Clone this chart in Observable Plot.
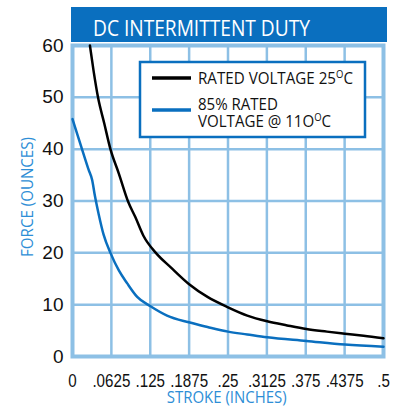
<!DOCTYPE html>
<html>
<head>
<meta charset="utf-8">
<script src="https://cdn.jsdelivr.net/npm/d3@7"></script>
<script src="https://cdn.jsdelivr.net/npm/@observablehq/plot@0.6"></script>
<style>
  html, body { margin: 0; padding: 0; background: #fff; }
  #chart { position: relative; width: 401px; height: 408px; }
</style>
</head>
<body>
<div id="chart"></div>
<script>
const title = "DC INTERMITTENT DUTY";
const xLabel = "STROKE (INCHES)";
const yLabel = "FORCE (OUNCES)";
const seriesNames = ["RATED VOLTAGE 25", "85% RATED", "VOLTAGE @ 11O"];

const xTicks = [0, 0.0625, 0.125, 0.1875, 0.25, 0.3125, 0.375, 0.4375, 0.5];
const xTickLabels = ["0", ".0625", ".125", ".1875", ".25", ".3125", ".375", ".4375", ".5"];
const yTicks = [0, 10, 20, 30, 40, 50, 60];

const ratedStroke = [0.028, 0.034, 0.041, 0.051, 0.061, 0.0745, 0.09, 0.101, 0.114, 0.134, 0.158, 0.187, 0.217, 0.25, 0.281, 0.313, 0.345, 0.376, 0.409, 0.438, 0.468, 0.5];
const ratedForce  = [60, 55, 50, 45, 40, 35.3, 29.7, 26.9, 23.3, 20, 17.2, 14, 11.5, 9.5, 7.9, 6.8, 6.0, 5.3, 4.8, 4.4, 4.0, 3.5];

const hotStroke = [0, 0.014, 0.026, 0.0317, 0.036, 0.042, 0.05, 0.0617, 0.0745, 0.088, 0.104, 0.1254, 0.152, 0.187, 0.217, 0.25, 0.281, 0.313, 0.376, 0.438, 0.5];
const hotForce  = [45.8, 40.5, 36, 34, 31, 27.5, 23.5, 19.8, 16.6, 14.1, 11.5, 9.7, 7.9, 6.6, 5.7, 4.8, 4.25, 3.7, 3.0, 2.3, 1.9];

const rated = ratedStroke.map((x, i) => ({x, y: ratedForce[i]}));
const hot = hotStroke.map((x, i) => ({x, y: hotForce[i]}));

const gridColor = "#8dc0e5";
const blue = "#0a6fbf";
const labelBlue = "#2e8ed6";
const humanist = "'Open Sans', 'Noto Sans', sans-serif";

const svg = Plot.plot({
  width: 401,
  height: 408,
  marginLeft: 72,
  marginRight: 18,
  marginTop: 45,
  marginBottom: 52,
  style: {fontFamily: "'Liberation Sans', Arial, sans-serif", background: "#fff"},
  x: {domain: [0, 0.5]},
  y: {domain: [0, 60]},
  marks: [
    Plot.ruleX(xTicks, {stroke: gridColor, strokeWidth: 2.5}),
    Plot.ruleY(yTicks, {stroke: gridColor, strokeWidth: 2.5}),
    Plot.frame({stroke: gridColor, strokeWidth: 4}),
    Plot.line(hot, {x: "x", y: "y", stroke: blue, strokeWidth: 2.5, curve: "monotone-x"}),
    Plot.line(rated, {x: "x", y: "y", stroke: "#000", strokeWidth: 2.5, curve: "monotone-x"}),
    Plot.axisX({ticks: xTicks, tickFormat: d => xTickLabels[xTicks.indexOf(d)], tickSize: 0, tickPadding: 17, label: null, fontSize: 18.5, fill: "#111"}),
    Plot.axisY({ticks: yTicks, tickSize: 0, tickPadding: 9, label: null, fontSize: 19, fill: "#111"})
  ]
});

document.getElementById("chart").appendChild(svg);

const s = d3.select(svg);

// compress x tick labels horizontally (each is positioned by a translate transform)
s.selectAll('g[aria-label="x-axis tick label"]').style("font-variant", "normal");
s.selectAll('g[aria-label="x-axis tick label"] text').each(function() {
  const t = this.getAttribute("transform") || "";
  this.setAttribute("transform", `${t} scale(0.82,1)`);
});

// helper: place text at (x,y) and scale horizontally to a target width
function fit(sel, x, y, width, anchor) {
  const w = sel.node().getComputedTextLength();
  const k = width / w;
  sel.attr("x", 0).attr("y", 0).attr("text-anchor", anchor || "start")
     .attr("transform", `translate(${x},${y}) scale(${k},1)`);
  return sel;
}

// title bar
s.append("rect").attr("x", 71).attr("y", 7).attr("width", 316).attr("height", 35).attr("fill", blue);
fit(s.append("text").attr("fill", "#fff").attr("text-anchor", "start")
  .style("font-family", humanist).style("font-size", "22px").text(title), 93, 36, 217);

// axis labels
fit(s.append("text").attr("fill", labelBlue).attr("text-anchor", "middle")
  .style("font-family", humanist).style("font-size", "15.5px").text(xLabel), 226.7, 403, 120, "middle");
{
  const t = s.append("text").attr("fill", labelBlue).attr("text-anchor", "middle")
    .style("font-family", humanist).style("font-size", "16px").text(yLabel);
  const w = t.node().getComputedTextLength();
  t.attr("x", 0).attr("y", 0).attr("transform", `translate(33,197) rotate(-90) scale(${120 / w},1)`);
}

// legend
const lg = s.append("g");
lg.append("rect").attr("x", 140).attr("y", 62).attr("width", 225).attr("height", 75)
  .attr("fill", "#fff").attr("stroke", blue).attr("stroke-width", 2.5);
lg.append("line").attr("x1", 152).attr("x2", 191).attr("y1", 78).attr("y2", 78).attr("stroke", "#000").attr("stroke-width", 3.5);
lg.append("line").attr("x1", 152).attr("x2", 191).attr("y1", 110).attr("y2", 110).attr("stroke", blue).attr("stroke-width", 3.5);
function entry(main, degree, x, y, width) {
  const tx = lg.append("text").attr("fill", "#111").attr("text-anchor", "start")
    .style("font-family", humanist).style("font-size", "16px");
  tx.append("tspan").text(main);
  if (degree) {
    tx.append("tspan").attr("dy", -6).style("font-size", "10px").text("O");
    tx.append("tspan").attr("dy", 6).text("C");
  }
  fit(tx, x, y, width, "start");
}
entry(seriesNames[0], true, 198, 84, 155);
entry(seriesNames[1], false, 198, 110, 80);
entry(seriesNames[2], true, 198, 127, 133);
</script>
</body>
</html>
